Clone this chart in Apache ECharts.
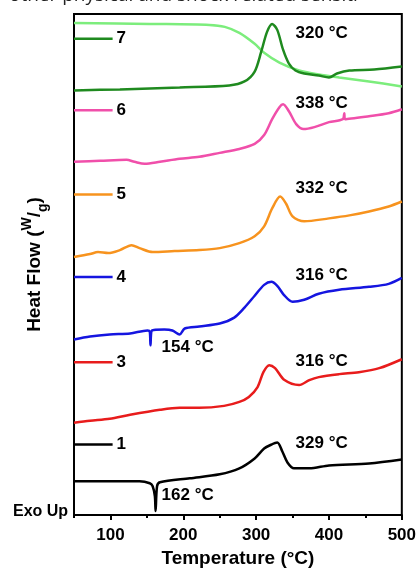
<!DOCTYPE html>
<html>
<head>
<meta charset="utf-8">
<script src="https://cdn.jsdelivr.net/npm/echarts@6/dist/echarts.min.js"></script>
<style>
html,body{margin:0;padding:0;background:#fff;}
#chart{width:419px;height:573px;}
</style>
</head>
<body>
<div id="chart"></div>
<script>
// ---- data (temperature °C, heat flow a.u.) ----
const xTickValues = [100, 200, 300, 400, 500];
const xMinorTickValues = [50, 150, 250, 350, 450];

const curve7 = [[50,428],[113,429],[195,431],[263,433],[284,437],[298,447],[307,467],[315,487],[322,495],[329,489],[337,469],[345,455],[354,448],[366,445],[386,443],[400,441],[411,445],[428,448],[462,449],[500,452]];
const curve7b = [[50,496],[154,495],[236,494],[257,492],[277,486],[298,475],[311,466],[332,456],[359,448],[386,444],[414,441],[455,437],[500,432]];
const curve6 = [[50,356],[86,357],[122,358],[133,356],[147,354],[168,356],[195,359],[222,361],[250,365],[277,369],[298,374],[311,383],[322,399],[332,411],[337,414],[345,407],[355,394],[365,389],[380,391],[400,396],[419,399],[421,405],[422,399],[455,402],[482,405],[500,409]];
const curve5 = [[50,260],[72,263],[83,265],[97,264],[113,267],[129,272],[140,269],[158,265],[188,266],[222,267],[250,269],[277,274],[298,281],[311,291],[322,309],[333,321],[341,314],[350,301],[366,296],[400,299],[428,302],[455,306],[482,311],[500,316]];
const curve4 = [[50,177],[72,180],[99,182],[127,183],[151,186],[154,185],[155,171],[157,186],[174,187],[185,186],[195,182],[202,188],[222,190],[250,193],[270,199],[284,209],[298,221],[311,232],[321,235],[329,231],[338,222],[350,215],[366,217],[386,223],[414,227],[455,230],[482,233],[500,239]];
const curve3 = [[50,93],[72,95],[99,97],[127,101],[168,106],[195,108],[222,108],[256,110],[277,114],[290,119],[302,129],[310,144],[318,151],[326,148],[339,136],[359,131],[373,136],[386,139],[414,142],[441,144],[469,148],[500,157]];
const curve1 = [[50,34],[86,34],[140,34],[154,32],[158,29],[161,19],[162,4],[164,29],[168,33],[209,37],[250,41],[277,47],[298,57],[311,67],[321,71],[329,73],[336,64],[343,53],[352,47],[373,47],[400,50],[455,52],[500,56]];

const sampleNames = ['7', '6', '5', '4', '3', '1'];
const sampleLevels = [480, 408, 323, 240, 154, 71];
const sampleKeyT = [50, 103];

const peakTexts = ['320 °C', '338 °C', '332 °C', '316 °C', '316 °C', '329 °C', '154 °C', '162 °C'];
const peakT = [390, 390, 390, 390, 390, 390, 206, 206];
const peakV = [486, 415, 329, 242, 155, 72, 169, 20];

// ---- styling ----
const colors = ['#1f8a1f', '#f04faa', '#f7931e', '#1515e0', '#e81c1c', '#000000'];
const curves = [curve7, curve6, curve5, curve4, curve3, curve1];
const FONT = 'Liberation Sans, Arial, sans-serif';

const series = [];
series.push({
  type: 'line', data: curve7b, showSymbol: false, smooth: 0.3,
  lineStyle: {color: '#7ced7c', width: 2.5}, z: 2, silent: true
});
curves.forEach((c, i) => {
  series.push({
    type: 'line', data: c, showSymbol: false, smooth: 0.3,
    lineStyle: {color: colors[i], width: 2.5}, z: 3, silent: true
  });
  series.push({
    type: 'line', data: sampleKeyT.map(t => [t, sampleLevels[i]]), showSymbol: false,
    lineStyle: {color: colors[i], width: 2.5}, z: 3, silent: true,
    endLabel: {show: true, formatter: sampleNames[i], color: '#000', fontFamily: FONT,
      fontWeight: 'bold', fontSize: 17, distance: 4}
  });
});
series.push({
  type: 'scatter', symbolSize: 0, silent: true, z: 5,
  itemStyle: {color: '#000', opacity: 1},
  data: peakTexts.map((s, i) => [peakT[i], peakV[i], s]),
  label: {show: true, position: 'inside', formatter: p => p.value[2], color: '#000', opacity: 1,
    textBorderWidth: 0, textBorderColor: 'transparent', textShadowBlur: 0,
    fontFamily: FONT, fontWeight: 'bold', fontSize: 17}
});

const chart = echarts.init(document.getElementById('chart'), null, {renderer: 'canvas'});
chart.setOption({
  animation: false,
  backgroundColor: '#fff',
  grid: {left: 74, top: 14, width: 330, height: 505, show: true, borderColor: '#000', borderWidth: 2, containLabel: false},
  xAxis: [{
    type: 'value', min: 50, max: 500,
    name: 'Temperature (°C)', nameLocation: 'middle', nameGap: 34,
    nameTextStyle: {fontFamily: FONT, fontWeight: 'bold', fontSize: 19, color: '#000'},
    axisLine: {show: true, lineStyle: {color: '#000', width: 2}},
    axisTick: {show: true, customValues: xTickValues, length: 5, lineStyle: {color: '#000', width: 2}},
    axisLabel: {show: true, customValues: xTickValues, margin: 12, fontFamily: FONT, fontWeight: 'bold', fontSize: 17, color: '#000'},
    splitLine: {show: false}
  }, {
    type: 'value', min: 50, max: 500, position: 'bottom',
    axisLine: {show: false},
    axisTick: {show: true, customValues: xMinorTickValues, length: 3, lineStyle: {color: '#000', width: 2}},
    axisLabel: {show: false},
    splitLine: {show: false}
  }],
  yAxis: {
    type: 'value', min: 0, max: 505,
    name: 'Heat Flow ({sup|W}/{sub|g})', nameLocation: 'middle', nameGap: 24, nameRotate: 90,
    nameTextStyle: {fontFamily: FONT, fontWeight: 'bold', fontSize: 19, color: '#000', lineHeight: 30,
      rich: {
        sup: {fontFamily: FONT, fontWeight: 'bold', fontSize: 14, color: '#000', verticalAlign: 'top', lineHeight: 30},
        sub: {fontFamily: FONT, fontWeight: 'bold', fontSize: 14, color: '#000', verticalAlign: 'bottom', lineHeight: 30}
      }},
    axisLine: {show: true, lineStyle: {color: '#000', width: 2}},
    axisTick: {show: false}, axisLabel: {show: false}, splitLine: {show: false}
  },
  graphic: [
    {type: 'text', left: 13, top: 504, silent: true,
      style: {text: 'Exo Up', fontFamily: FONT, fontWeight: 'bold', fontSize: 16, fill: '#000'}},
    {type: 'text', left: 9, top: -14, silent: true,
      style: {text: 'other physical and shock related sensiti', fontFamily: 'Open Sans, sans-serif', fontSize: 19, fill: '#222'}}
  ],
  series: series
});
</script>
</body>
</html>
